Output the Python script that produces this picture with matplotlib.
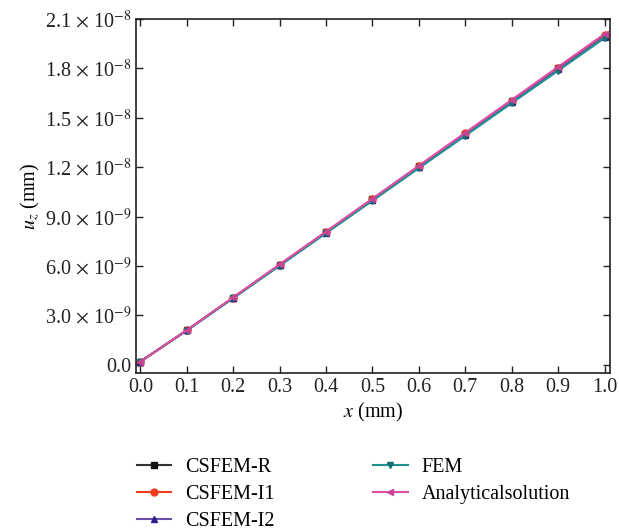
import matplotlib
matplotlib.use("Agg")
import matplotlib.pyplot as plt
from matplotlib.ticker import FuncFormatter

plt.rcParams["font.family"] = ["Liberation Serif", "DejaVu Serif"]
plt.rcParams["mathtext.fontset"] = "stix"

x = [0.0, 0.1, 0.2, 0.3, 0.4, 0.5, 0.6, 0.7, 0.8, 0.9, 1.0]
csfem_r = [0.2, 2.1, 4.08, 6.07, 8.06, 10.05, 12.05, 14.04, 16.03, 18.02, 20.0]
csfem_i1 = [0.2, 2.1, 4.09, 6.08, 8.07, 10.07, 12.07, 14.06, 16.05, 18.05, 20.05]
csfem_i2 = [0.2, 2.1, 4.07, 6.05, 8.03, 10.02, 12.0, 13.98, 15.96, 17.94, 19.92]
fem = [0.2, 2.08, 4.05, 6.02, 8.0, 9.97, 11.95, 13.92, 15.9, 17.87, 19.85]
analytical = [0.2, 2.1, 4.1, 6.1, 8.1, 10.1, 12.1, 14.1, 16.1, 18.1, 20.1]

scale = 1e-9
yticks = [0.0, 3.0e-9, 6.0e-9, 9.0e-9, 1.2e-8, 1.5e-8, 1.8e-8, 2.1e-8]

fig = plt.figure(figsize=(6.19, 5.30), dpi=100)
ax = fig.add_axes([0.22, 0.296, 0.765, 0.668])

series = [
    ("CSFEM-R", csfem_r, "#333333", "s", "#111111"),
    ("CSFEM-I1", csfem_i1, "#f03c1e", "o", "#f03c1e"),
    ("CSFEM-I2", csfem_i2, "#6a4fa8", "^", "#2d1c85"),
    ("FEM", fem, "#1f9090", "v", "#15706f"),
    ("Analyticalsolution", analytical, "#dd4fa5", "<", "#c94497"),
]
for name, vals, col, mk, mcol in series:
    ax.plot(x, [v * scale for v in vals], color=col, lw=1.5, marker=mk,
            ms=5, mfc=mcol, mec=mcol, label=name)


def fmt(v, pos):
    if abs(v) < 1e-20:
        return "0.0"
    exp = -8 if abs(v) >= 1e-8 - 1e-15 else -9
    m = v / 10 ** exp
    return r"%.1f $\times$ 10$^{%d}$" % (m, exp)


ax.set_xlim(-0.009, 1.011)
ax.set_ylim(-0.5e-9, 2.1e-8)
ax.set_xticks(x)
ax.set_yticks(yticks)
ax.yaxis.set_major_formatter(FuncFormatter(fmt))
ax.xaxis.set_major_formatter(FuncFormatter(lambda v, p: "%.1f" % v))
ax.tick_params(direction="in", top=True, right=True, labelsize=14.5,
               length=5, width=1, colors="#222222", labelcolor="#222222")
for s in ax.spines.values():
    s.set_linewidth(1.2)
    s.set_color("#222222")

ax.set_xlabel(r"$x$ (mm)", fontsize=14.5, labelpad=3)
ax.set_ylabel(r"$u_z$ (mm)", fontsize=14.5, labelpad=2)

fig.legend(loc="upper left", bbox_to_anchor=(0.208, 0.152), ncol=2,
           frameon=False, fontsize=14.5, handlelength=1.7, labelspacing=0.4,
           columnspacing=4.9, borderaxespad=0, handletextpad=0.7)

fig.savefig("out.png", dpi=100)
